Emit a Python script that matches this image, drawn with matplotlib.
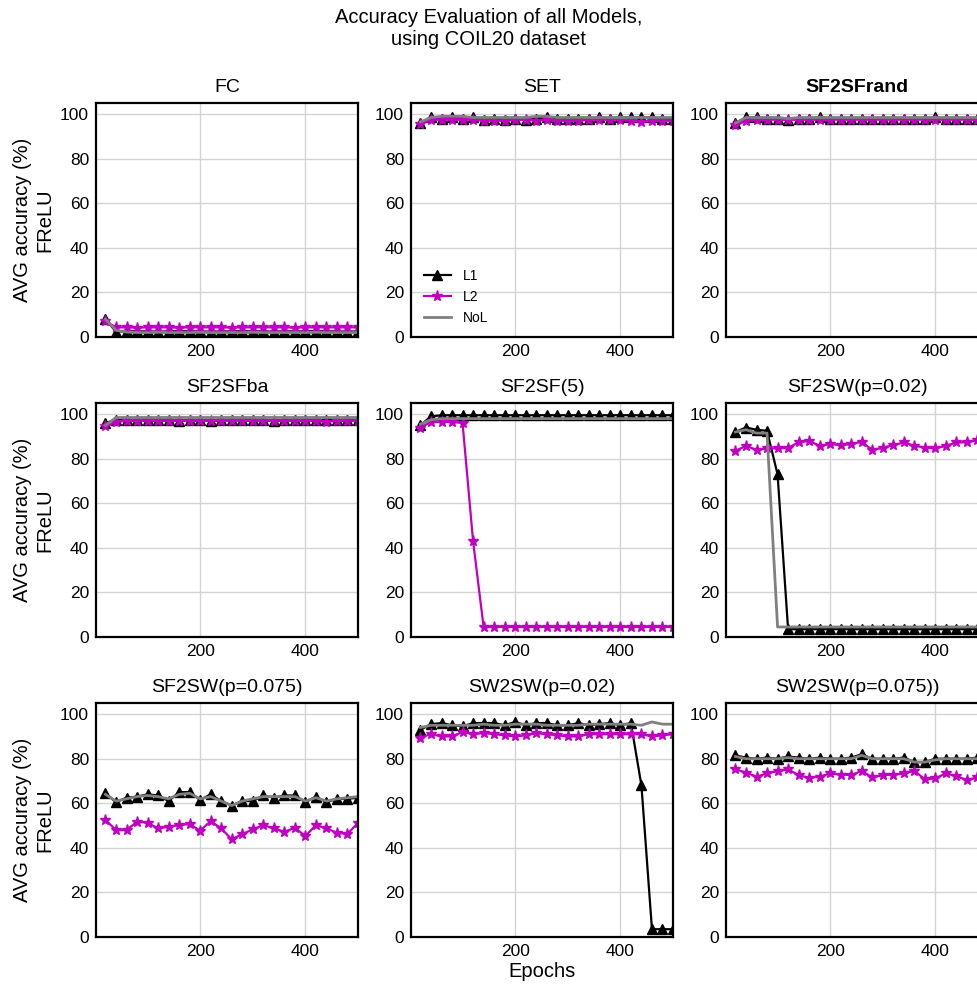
import matplotlib
matplotlib.use("Agg")
import matplotlib.pyplot as plt
import numpy as np

plt.rcParams['font.family'] = ['Liberation Sans', 'DejaVu Sans']

# epochs
epochs = [20, 40, 60, 80, 100, 120, 140, 160, 180, 200, 220, 240, 260,
          280, 300, 320, 340, 360, 380, 400, 420, 440, 460, 480, 500]

titles = ["FC", "SET", "SF2SFrand",
          "SF2SFba", "SF2SF(5)", "SF2SW(p=0.02)",
          "SF2SW(p=0.075)", "SW2SW(p=0.02)", "SW2SW(p=0.075))"]

# FC
fc_l1 = [8.0, 2.4, 2.6, 2.5, 2.5, 2.4, 2.5, 2.6, 2.5, 2.5, 2.4, 2.5, 2.5, 2.6, 2.5, 2.5, 2.4, 2.5, 2.5, 2.5, 2.6, 2.5, 2.5, 2.4, 2.5]
fc_l2 = [7.0, 4.3, 4.3, 4.2, 4.3, 4.3, 4.3, 4.2, 4.3, 4.3, 4.3, 4.3, 4.2, 4.3, 4.3, 4.3, 4.3, 4.3, 4.2, 4.3, 4.3, 4.3, 4.3, 4.3, 4.3]
fc_nol = [8.0, 3.0, 2.2, 2.0, 2.0, 2.1, 2.0, 2.0, 2.0, 2.1, 2.0, 2.0, 2.0, 2.0, 2.1, 2.0, 2.0, 2.0, 2.0, 2.0, 2.1, 2.0, 2.0, 2.0, 2.0]

# SET
set_l1 = [96.0, 98.5, 98.0, 98.5, 98.0, 98.5, 97.5, 98.0, 97.5, 98.0, 97.5, 98.0, 98.5, 98.0, 98.0, 98.0, 98.0, 98.5, 98.0, 98.5, 98.5, 98.5, 98.5, 98.0, 98.0]
set_l2 = [95.5, 97.5, 97.5, 97.5, 97.5, 97.5, 97.0, 97.0, 97.0, 97.5, 97.5, 97.0, 97.5, 97.0, 97.0, 97.0, 97.5, 97.5, 97.5, 97.5, 97.0, 96.5, 97.0, 97.0, 97.0]
set_nol = [96.5, 98.5, 99.0, 99.0, 99.0, 98.5, 98.5, 98.5, 98.5, 98.5, 98.5, 99.0, 99.0, 98.5, 98.5, 98.5, 98.5, 98.5, 98.5, 98.5, 98.5, 98.5, 98.5, 98.5, 98.5]

# SF2SFrand
rand_l1 = [96.0, 98.5, 98.5, 98.0, 98.0, 97.5, 98.0, 98.0, 98.5, 98.0, 98.0, 98.0, 98.0, 98.0, 98.0, 98.0, 98.0, 98.0, 98.0, 98.5, 98.0, 98.0, 98.0, 98.0, 98.0]
rand_l2 = [95.0, 97.0, 97.5, 97.5, 97.5, 97.5, 97.5, 97.5, 97.5, 97.5, 97.5, 97.5, 97.5, 97.5, 97.5, 97.5, 97.5, 97.5, 97.5, 97.5, 97.5, 97.5, 97.5, 97.5, 97.5]
rand_nol = [96.0, 98.5, 98.5, 98.5, 98.5, 98.0, 98.5, 98.5, 98.5, 98.5, 98.5, 98.5, 98.5, 98.5, 98.5, 98.5, 98.5, 98.5, 98.5, 98.5, 98.5, 98.5, 98.5, 98.5, 98.5]

# SF2SFba
ba_l1 = [96.0, 97.5, 97.5, 97.5, 97.5, 97.5, 97.5, 97.0, 97.5, 97.5, 97.0, 97.5, 97.5, 97.5, 97.5, 97.5, 97.0, 97.5, 97.5, 97.5, 97.5, 97.5, 97.5, 97.5, 97.5]
ba_l2 = [94.5, 96.5, 97.0, 97.0, 97.0, 97.0, 97.0, 97.0, 97.0, 97.0, 97.0, 97.0, 97.0, 97.0, 97.0, 97.0, 97.0, 97.0, 97.0, 97.0, 97.0, 96.5, 97.0, 97.0, 97.0]
ba_nol = [95.0, 98.5, 98.5, 98.5, 98.5, 98.5, 98.5, 98.5, 98.5, 98.5, 98.5, 98.5, 98.5, 98.5, 98.5, 98.5, 98.5, 98.5, 98.5, 98.5, 98.5, 98.5, 98.5, 98.5, 98.5]

# SF2SF(5)
sf5_l1 = [95.0, 99.0, 99.5, 99.5, 99.5, 99.5, 99.5, 99.5, 99.5, 99.5, 99.5, 99.5, 99.5, 99.5, 99.5, 99.5, 99.5, 99.5, 99.5, 99.5, 99.5, 99.5, 99.5, 99.5, 99.5]
sf5_l2 = [94.0, 96.5, 96.5, 96.5, 96.0, 43.0, 4.5, 4.5, 4.5, 4.5, 4.5, 4.5, 4.5, 4.5, 4.5, 4.5, 4.5, 4.5, 4.5, 4.5, 4.5, 4.5, 4.5, 4.5, 4.5]
sf5_nol = [95.5, 97.5, 98.0, 98.0, 98.0, 98.0, 98.0, 98.0, 98.0, 98.0, 98.0, 98.0, 98.0, 98.0, 98.0, 98.0, 98.0, 98.0, 98.0, 98.0, 98.0, 98.0, 98.0, 98.0, 98.0]

# SF2SW(p=0.02)
sw02_l1 = [92.0, 94.0, 93.0, 92.5, 73.0, 3.5, 3.5, 3.5, 3.5, 3.5, 3.5, 3.5, 3.5, 3.5, 3.5, 3.5, 3.5, 3.5, 3.5, 3.5, 3.5, 3.5, 3.5, 3.5, 3.5]
sw02_l2 = [83.5, 85.8, 83.9, 84.6, 84.6, 84.9, 87.3, 88.0, 85.8, 86.5, 86.1, 86.5, 87.6, 83.9, 84.9, 86.1, 87.3, 85.8, 85.0, 84.6, 85.8, 87.3, 87.3, 88.3, 89.0]
sw02_nol = [92.0, 93.0, 91.5, 91.5, 4.5, 4.5, 4.5, 4.5, 4.5, 4.5, 4.5, 4.5, 4.5, 4.5, 4.5, 4.5, 4.5, 4.5, 4.5, 4.5, 4.5, 4.5, 4.5, 4.5, 4.5]

# SF2SW(p=0.075)
sw075_l1 = [64.5, 60.5, 62.5, 63.0, 64.0, 63.5, 61.0, 65.0, 65.0, 61.5, 64.0, 61.0, 59.0, 61.0, 61.0, 63.5, 62.5, 63.5, 63.5, 60.5, 63.0, 60.5, 62.0, 62.0, 62.5]
sw075_l2 = [52.5, 48.0, 48.0, 51.7, 51.3, 48.7, 49.5, 50.2, 50.7, 47.7, 52.0, 48.7, 43.8, 46.2, 48.3, 50.2, 48.7, 47.2, 49.0, 45.3, 50.2, 48.7, 46.8, 46.2, 51.3]
sw075_nol = [64.0, 61.0, 62.0, 63.0, 63.5, 63.0, 62.0, 64.0, 64.5, 62.0, 63.0, 61.0, 59.0, 61.0, 62.0, 63.0, 63.0, 63.0, 63.0, 61.0, 62.5, 61.0, 62.0, 62.5, 63.0]

# SW2SW(p=0.02)
ww02_l1 = [93.0, 95.5, 96.0, 95.0, 94.5, 96.0, 96.0, 96.0, 95.0, 96.5, 95.0, 96.0, 96.0, 95.0, 95.0, 96.0, 95.0, 95.5, 96.0, 95.0, 96.0, 68.0, 3.5, 3.5, 3.5]
ww02_l2 = [89.5, 91.0, 90.0, 90.0, 92.0, 91.0, 91.5, 91.0, 90.5, 90.0, 90.5, 91.5, 91.0, 90.5, 90.0, 90.0, 91.0, 91.0, 91.0, 91.0, 91.0, 91.0, 90.0, 90.5, 91.0]
ww02_nol = [94.0, 95.0, 95.0, 95.0, 95.0, 95.0, 95.5, 95.0, 95.0, 95.5, 95.5, 95.5, 95.0, 95.0, 95.0, 95.0, 95.5, 95.5, 95.5, 95.5, 95.5, 95.0, 96.5, 95.5, 95.5]

# SW2SW(p=0.075)
ww075_l1 = [81.5, 80.5, 80.0, 80.5, 80.0, 81.0, 80.5, 80.0, 80.5, 80.0, 80.0, 80.5, 82.0, 80.0, 80.0, 80.0, 80.5, 78.5, 78.5, 80.0, 80.0, 80.0, 80.0, 80.5, 80.0]
ww075_l2 = [75.2, 73.8, 71.9, 73.4, 74.4, 75.2, 72.6, 71.4, 71.9, 73.4, 72.9, 72.6, 74.6, 71.6, 72.6, 72.9, 73.4, 74.6, 70.7, 71.2, 73.4, 72.2, 70.4, 71.6, 72.5]
ww075_nol = [81.0, 80.0, 80.0, 80.0, 80.0, 80.5, 80.0, 80.0, 80.0, 80.0, 80.0, 80.0, 81.5, 80.0, 80.0, 80.0, 80.0, 78.5, 78.5, 79.5, 80.0, 80.0, 80.0, 80.0, 80.0]

all_l1 = [fc_l1, set_l1, rand_l1, ba_l1, sf5_l1, sw02_l1, sw075_l1, ww02_l1, ww075_l1]
all_l2 = [fc_l2, set_l2, rand_l2, ba_l2, sf5_l2, sw02_l2, sw075_l2, ww02_l2, ww075_l2]
all_nol = [fc_nol, set_nol, rand_nol, ba_nol, sf5_nol, sw02_nol, sw075_nol, ww02_nol, ww075_nol]

W, H = 977, 984
fig = plt.figure(figsize=(W / 100, H / 100), dpi=100)

col_left = [96, 411, 726]
row_top = [103, 403, 703]
aw, ah = 262, 234

fig.suptitle("Accuracy Evaluation of all Models,\nusing COIL20 dataset", fontsize=14.5, y=0.992)

for i in range(9):
    r, c = i // 3, i % 3
    ax = fig.add_axes([col_left[c] / W, 1 - (row_top[r] + ah) / H, aw / W, ah / H])
    ax.set_axisbelow(True)
    ax.grid(True, color='#d3d3d3', lw=1)
    ax.plot(epochs, all_l1[i], color='k', marker='^', ms=7.5, lw=1.6, label='L1')
    ax.plot(epochs, all_l2[i], color='#c000c0', marker='*', ms=8, lw=1.6, label='L2')
    ax.plot(epochs, all_nol[i], color='gray', lw=2, label='NoL')
    ax.set_xlim(2, 500)
    ax.set_ylim(0, 105)
    ax.set_xticks([200, 400])
    ax.set_yticks([0, 20, 40, 60, 80, 100])
    ax.tick_params(length=0, labelsize=12.5, pad=5)
    for s in ax.spines.values():
        s.set_color('k')
        s.set_linewidth(1.6)
    if i == 2:
        ax.set_title(titles[i], fontsize=14, fontweight='bold', pad=8)
    else:
        ax.set_title(titles[i], fontsize=14, pad=8)
    if c == 0:
        ax.set_ylabel("AVG accuracy (%)\nFReLU", fontsize=14.5)
    if i == 7:
        ax.set_xlabel("Epochs", fontsize=14.5, labelpad=2)
    if i == 1:
        ax.legend(loc='lower left', frameon=False, fontsize=10, handlelength=2,
                  bbox_to_anchor=(0.0, 0.0))

fig.savefig("out.png", dpi=100)
